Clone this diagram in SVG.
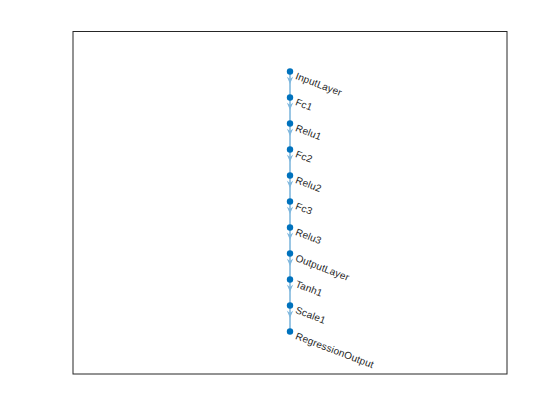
<svg xmlns="http://www.w3.org/2000/svg" width="560" height="420" viewBox="0 0 560 420">
<style>
.axes{fill:#ffffff;stroke:#262626;stroke-width:1}
.edge{stroke:#80B8DE;stroke-width:1.6;fill:none}
.head{fill:#80B8DE;stroke:none}
.node{fill:#0072BD}
.lbl{font-family:"Liberation Sans",Arial,sans-serif;font-size:10px;fill:#262626;letter-spacing:0.15px}
</style>
<defs>
<path id="ah" d="M-3.2,0 L0,2.5 L3.2,0 L0,7.5 Z"/>
</defs>
<rect width="560" height="420" fill="#ffffff"/>
<rect class="axes" x="73" y="31.5" width="434" height="342.5"/>
<g id="connectors">
<line class="edge" x1="290" y1="71.5" x2="290" y2="331.5"/>
<use href="#ah" class="head" x="290" y="76.5"/>
<use href="#ah" class="head" x="290" y="102.5"/>
<use href="#ah" class="head" x="290" y="128.5"/>
<use href="#ah" class="head" x="290" y="154.5"/>
<use href="#ah" class="head" x="290" y="180.5"/>
<use href="#ah" class="head" x="290" y="206.5"/>
<use href="#ah" class="head" x="290" y="232.5"/>
<use href="#ah" class="head" x="290" y="258.5"/>
<use href="#ah" class="head" x="290" y="284.5"/>
<use href="#ah" class="head" x="290" y="310.5"/>
</g>
<g id="InputLayer"><circle class="node" cx="290" cy="71.5" r="3.2"/><text class="lbl" x="297" y="76.5" transform="rotate(21 290 71.5)">InputLayer</text></g>
<g id="Fc1"><circle class="node" cx="290" cy="97.5" r="3.2"/><text class="lbl" x="297" y="102.5" transform="rotate(21 290 97.5)">Fc1</text></g>
<g id="Relu1"><circle class="node" cx="290" cy="123.5" r="3.2"/><text class="lbl" x="297" y="128.5" transform="rotate(21 290 123.5)">Relu1</text></g>
<g id="Fc2"><circle class="node" cx="290" cy="149.5" r="3.2"/><text class="lbl" x="297" y="154.5" transform="rotate(21 290 149.5)">Fc2</text></g>
<g id="Relu2"><circle class="node" cx="290" cy="175.5" r="3.2"/><text class="lbl" x="297" y="180.5" transform="rotate(21 290 175.5)">Relu2</text></g>
<g id="Fc3"><circle class="node" cx="290" cy="201.5" r="3.2"/><text class="lbl" x="297" y="206.5" transform="rotate(21 290 201.5)">Fc3</text></g>
<g id="Relu3"><circle class="node" cx="290" cy="227.5" r="3.2"/><text class="lbl" x="297" y="232.5" transform="rotate(21 290 227.5)">Relu3</text></g>
<g id="OutputLayer"><circle class="node" cx="290" cy="253.5" r="3.2"/><text class="lbl" x="297" y="258.5" transform="rotate(21 290 253.5)">OutputLayer</text></g>
<g id="Tanh1"><circle class="node" cx="290" cy="279.5" r="3.2"/><text class="lbl" x="297" y="284.5" transform="rotate(21 290 279.5)">Tanh1</text></g>
<g id="Scale1"><circle class="node" cx="290" cy="305.5" r="3.2"/><text class="lbl" x="297" y="310.5" transform="rotate(21 290 305.5)">Scale1</text></g>
<g id="RegressionOutput"><circle class="node" cx="290" cy="331.5" r="3.2"/><text class="lbl" x="297" y="336.5" transform="rotate(21 290 331.5)">RegressionOutput</text></g>
</svg>
